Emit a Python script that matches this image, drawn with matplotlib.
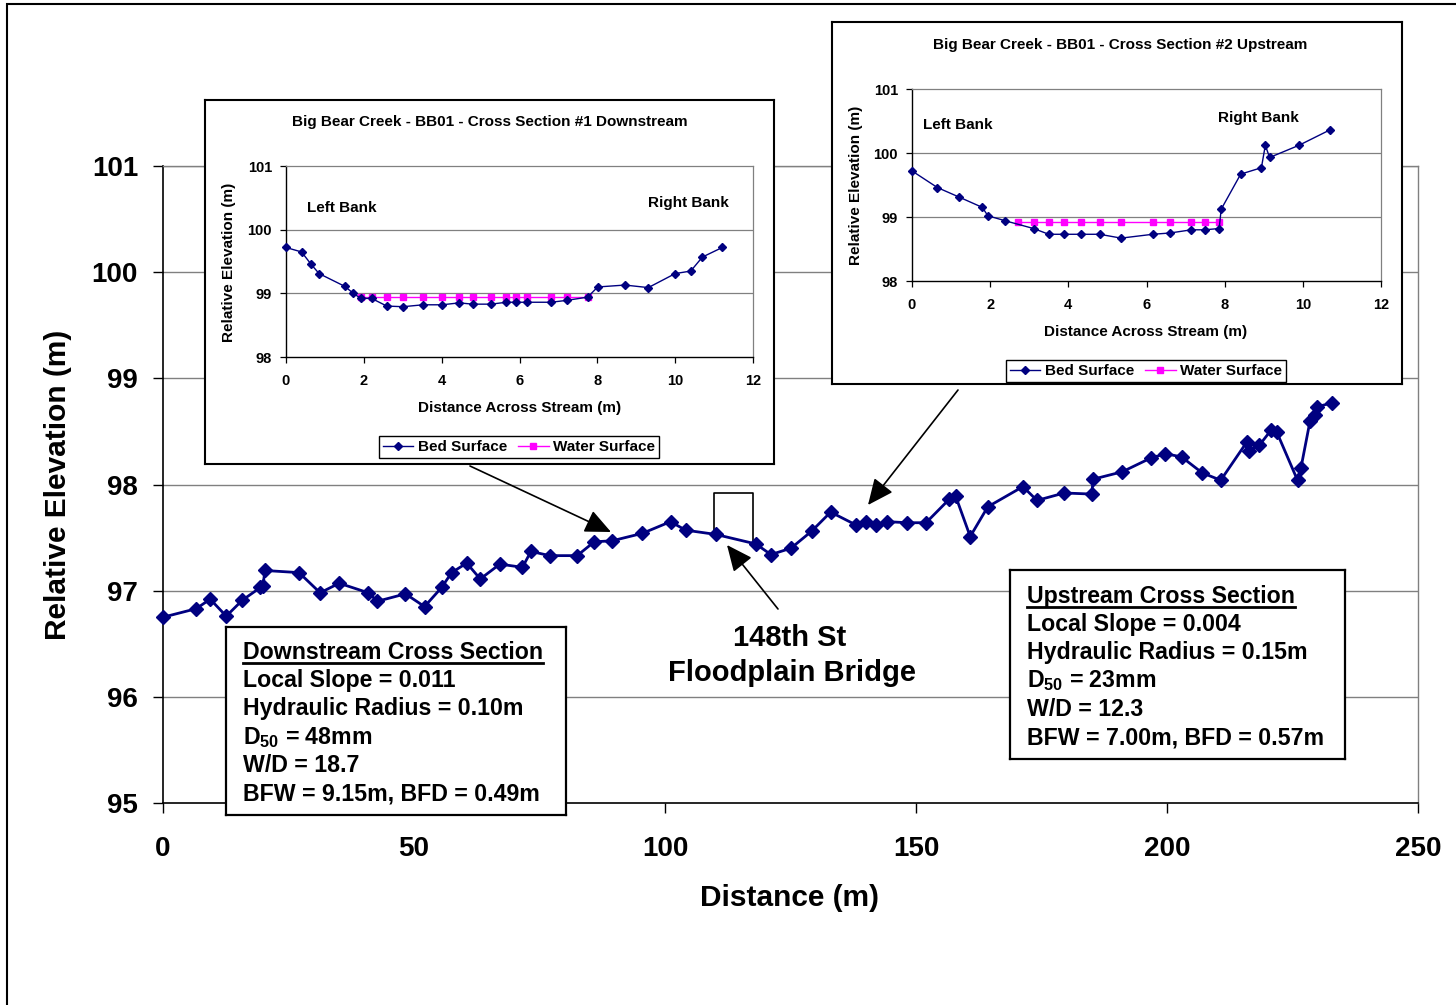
import matplotlib
matplotlib.use("Agg")
import matplotlib.pyplot as plt
from matplotlib.patches import FancyArrowPatch, Rectangle
from matplotlib.lines import Line2D

# ---------------- data ----------------
# longitudinal profile
dist = [0.0, 6.6, 9.4, 12.6, 15.8, 19.4, 19.9, 20.3, 27.1, 31.3, 35.1, 40.9, 42.7,
        48.3, 52.1, 55.5, 57.5, 60.5, 63.2, 67.1, 71.6, 73.3, 77.0, 82.5, 85.9,
        89.5, 95.5, 101.1, 104.1, 110.1, 118.1, 121.1, 125.1, 129.2, 133.0, 138.0,
        140.0, 142.1, 144.3, 148.2, 152.0, 156.6, 157.9, 160.8, 164.3, 171.3,
        174.1, 179.5, 185.0, 185.3, 191.1, 196.8, 199.7, 202.9, 207.0, 210.7,
        215.9, 216.4, 218.4, 220.7, 221.9, 226.0, 226.7, 228.5, 229.5, 229.8, 232.9]
elev = [96.75, 96.83, 96.92, 96.76, 96.91, 97.03, 97.04, 97.19, 97.17, 96.98, 97.07,
        96.98, 96.90, 96.97, 96.85, 97.03, 97.17, 97.26, 97.11, 97.25, 97.22, 97.37,
        97.33, 97.33, 97.46, 97.47, 97.54, 97.65, 97.57, 97.53, 97.44, 97.34, 97.40,
        97.56, 97.74, 97.62, 97.65, 97.62, 97.65, 97.64, 97.64, 97.86, 97.89, 97.51,
        97.79, 97.98, 97.85, 97.92, 97.91, 98.05, 98.12, 98.25, 98.29, 98.26, 98.11,
        98.04, 98.40, 98.32, 98.37, 98.51, 98.49, 98.04, 98.16, 98.60, 98.65, 98.73,
        98.77]

# cross section 1 (downstream)
xs1_x = [0.0, 0.40, 0.64, 0.85, 1.51, 1.71, 1.92, 2.20, 2.59, 3.01, 3.52, 4.01, 4.45,
         4.80, 5.27, 5.66, 5.91, 6.20, 6.81, 7.22, 7.75, 8.01, 8.71, 9.31, 10.00,
         10.40, 10.70, 11.21]
xs1_bed = [99.72, 99.65, 99.46, 99.31, 99.11, 99.01, 98.92, 98.92, 98.80, 98.79, 98.82,
           98.82, 98.85, 98.83, 98.83, 98.86, 98.86, 98.86, 98.86, 98.89, 98.94, 99.10,
           99.13, 99.09, 99.31, 99.35, 99.57, 99.72]
xs1_wx = [1.92, 2.20, 2.59, 3.01, 3.52, 4.01, 4.45, 4.80, 5.27, 5.66, 5.91, 6.20,
          6.81, 7.22, 7.75]
xs1_ws = [98.95] * len(xs1_wx)

# cross section 2 (upstream)
xs2_x = [0.0, 0.65, 1.21, 1.80, 1.94, 2.39, 3.11, 3.50, 3.89, 4.32, 4.80, 5.35, 6.16,
         6.60, 7.15, 7.49, 7.86, 7.91, 8.41, 8.94, 9.04, 9.15, 9.90, 10.69]
xs2_bed = [99.72, 99.46, 99.31, 99.15, 99.02, 98.94, 98.82, 98.73, 98.73, 98.73, 98.73,
           98.67, 98.73, 98.75, 98.80, 98.80, 98.82, 99.12, 99.67, 99.77, 100.12, 99.93,
           100.12, 100.36]
xs2_wx = [2.71, 3.11, 3.50, 3.89, 4.32, 4.80, 5.35, 6.16, 6.60, 7.15, 7.49, 7.86]
xs2_ws = [98.92] * len(xs2_wx)

main_xticks = [0, 50, 100, 150, 200, 250]
main_yticks = [95, 96, 97, 98, 99, 100, 101]

down_lines = ["Downstream Cross Section", "Local Slope = 0.011",
              "Hydraulic Radius = 0.10m", r"D$_{50}$ = 48mm", "W/D = 18.7",
              "BFW = 9.15m, BFD = 0.49m"]
up_lines = ["Upstream Cross Section", "Local Slope = 0.004",
            "Hydraulic Radius = 0.15m", r"D$_{50}$ = 23mm", "W/D = 12.3",
            "BFW = 7.00m, BFD = 0.57m"]

# ---------------- style ----------------
plt.rcParams['font.family'] = ['Liberation Sans', 'DejaVu Sans']
plt.rcParams['font.weight'] = 'bold'
plt.rcParams['mathtext.fontset'] = 'custom'
plt.rcParams['mathtext.rm'] = 'Liberation Sans:bold'
plt.rcParams['mathtext.it'] = 'Liberation Sans:bold'
plt.rcParams['mathtext.bf'] = 'Liberation Sans:bold'

W, H = 1456, 1005
NAVY = '#000080'
MAG = '#FF00FF'
GRID = '#808080'

fig = plt.figure(figsize=(W / 100, H / 100), dpi=100)


def fx(px):
    return px / W


def fy(py):
    return 1 - py / H


def rect(l, t, r, b):
    return [fx(l), fy(b), (r - l) / W, (b - t) / H]


# outer frame
fig.add_artist(Rectangle((fx(7), fy(1020)), 2, fy(4) - fy(1020), transform=fig.transFigure,
                         fill=False, edgecolor='black', lw=1.5, zorder=0.5))

# ---------------- main axes ----------------
ax = fig.add_axes(rect(163, 166, 1418, 803))
ax.plot(dist, elev, color=NAVY, lw=2.0, marker='D', ms=7.2, mec=NAVY, mfc=NAVY, zorder=3,
        clip_on=False)
ax.set_xlim(0, 250)
ax.set_ylim(95, 101)
ax.set_xticks(main_xticks)
ax.set_yticks(main_yticks)
for v in main_yticks[1:]:
    ax.axhline(v, color=GRID, lw=1.0, zorder=1)
for s in ['top', 'right']:
    ax.spines[s].set_color(GRID)
    ax.spines[s].set_linewidth(1.0)
for s in ['left', 'bottom']:
    ax.spines[s].set_color('black')
    ax.spines[s].set_linewidth(1.2)
ax.tick_params(axis='x', direction='out', length=7, width=1.0, pad=17, labelsize=20)
ax.tick_params(axis='y', direction='out', length=7, width=1.0, pad=11, labelsize=20)

fig.text(fx(58), fy(485), "Relative Elevation (m)", rotation=90, ha='center', va='center',
         fontsize=21.5)
fig.text(fx(790), fy(898), "Distance (m)", ha='center', va='center', fontsize=21.5)

# bridge bracket (annotation)
BR_X0, BR_X1, BR_TOP, BR_B0, BR_B1 = 109.8, 117.6, 97.92, 97.53, 97.46
ax.plot([BR_X0, BR_X0, BR_X1, BR_X1], [BR_B0, BR_TOP, BR_TOP, BR_B1], color='black',
        lw=1.2, zorder=2)

fig.text(fx(790), fy(638), "148th St", ha='center', va='center', fontsize=21)
fig.text(fx(792), fy(673), "Floodplain Bridge", ha='center', va='center', fontsize=21)


# ---------------- text boxes ----------------
def text_box(l, t, r, b, tx, baselines, lines):
    bx = fig.add_axes(rect(l, t, r, b))
    bx.set_xticks([])
    bx.set_yticks([])
    bx.set_facecolor('white')
    for s in bx.spines.values():
        s.set_linewidth(1.6)
        s.set_color('black')
    texts = []
    for yb, s in zip(baselines, lines):
        texts.append(fig.text(fx(tx), fy(yb), s, ha='left', va='baseline', fontsize=16.7,
                              zorder=5))
    return texts


down_texts = text_box(226, 627, 566, 815, 243, [659, 687, 715, 744, 772, 800], down_lines)
up_texts = text_box(1010, 570, 1345, 759, 1027, [603, 631, 659, 687, 716, 744], up_lines)


# ---------------- insets ----------------
def inset(box, axr, title, title_xy, ylab_xy, xlab_xy, leg_xy, bx_, bed, wx, ws,
          lb_xy, rb_xy):
    b = fig.add_axes(rect(*box))
    b.set_xticks([])
    b.set_yticks([])
    b.set_facecolor('white')
    for s in b.spines.values():
        s.set_linewidth(1.5)
        s.set_color('black')
    a = fig.add_axes(rect(*axr))
    l1, = a.plot(bx_, bed, color=NAVY, lw=1.0, marker='D', ms=3.6, mec=NAVY, mfc=NAVY,
                 label='Bed Surface', zorder=3, clip_on=False)
    l2, = a.plot(wx, ws, color=MAG, lw=1.0, marker='s', ms=4.5, mec=MAG, mfc=MAG,
                 label='Water Surface', zorder=2)
    a.set_xlim(0, 12)
    a.set_ylim(98, 101)
    a.set_xticks([0, 2, 4, 6, 8, 10, 12])
    a.set_yticks([98, 99, 100, 101])
    for v in [99, 100]:
        a.axhline(v, color=GRID, lw=0.9, zorder=1)
    for s in ['top', 'right']:
        a.spines[s].set_color(GRID)
        a.spines[s].set_linewidth(0.9)
    for s in ['left', 'bottom']:
        a.spines[s].set_color('black')
        a.spines[s].set_linewidth(1.0)
    a.tick_params(axis='x', direction='out', length=4, width=0.9, pad=8, labelsize=10.5)
    a.tick_params(axis='y', direction='out', length=4, width=0.9, pad=6, labelsize=10.5)
    a.text(lb_xy[0], lb_xy[1], "Left Bank", ha='left', va='center', fontsize=11)
    a.text(rb_xy[0], rb_xy[1], "Right Bank", ha='left', va='center', fontsize=11)
    fig.text(fx(title_xy[0]), fy(title_xy[1]), title, ha='center', va='center', fontsize=11)
    fig.text(fx(ylab_xy[0]), fy(ylab_xy[1]), "Relative Elevation (m)", rotation=90,
             ha='center', va='center', fontsize=11)
    fig.text(fx(xlab_xy[0]), fy(xlab_xy[1]), "Distance Across Stream (m)", ha='center',
             va='center', fontsize=11)
    leg = a.legend(handles=[l1, l2], loc='center', bbox_to_anchor=(fx(leg_xy[0]), fy(leg_xy[1])),
                   bbox_transform=fig.transFigure, ncol=2, fancybox=False, framealpha=1,
                   edgecolor='black', fontsize=11, handlelength=2.0, columnspacing=0.7,
                   handletextpad=0.3, borderpad=0.25, numpoints=1, borderaxespad=0)
    leg.get_frame().set_linewidth(1.0)
    return a


inset((205, 100, 774, 464), (286, 166, 753, 357),
      "Big Bear Creek - BB01 - Cross Section #1 Downstream", (490, 122), (229, 262),
      (520, 408), (519, 447), xs1_x, xs1_bed, xs1_wx, xs1_ws, (0.54, 100.34), (9.3, 100.42))
inset((832, 22, 1402, 384), (912, 89, 1381, 281),
      "Big Bear Creek - BB01 - Cross Section #2 Upstream", (1120, 45), (856, 185),
      (1146, 332), (1146, 371), xs2_x, xs2_bed, xs2_wx, xs2_ws, (0.28, 100.44), (7.83, 100.55))


# ---------------- arrows ----------------
def arrow(p0, p1):
    fig.add_artist(FancyArrowPatch((fx(p0[0]), fy(p0[1])), (fx(p1[0]), fy(p1[1])),
                                   transform=fig.transFigure,
                                   arrowstyle='-|>,head_length=0.8,head_width=0.36',
                                   mutation_scale=20, color='black', lw=1.2,
                                   shrinkA=0, shrinkB=0, zorder=6))


arrow((470, 466), (611, 532))
arrow((958, 390), (868, 505))
arrow((778, 609), (727, 545))

# underlines for box titles
fig.canvas.draw()
r = fig.canvas.get_renderer()
for t, yb in [(down_texts[0], 663), (up_texts[0], 607)]:
    bb = t.get_window_extent(r)
    fig.add_artist(Line2D([bb.x0 / W, bb.x1 / W], [fy(yb), fy(yb)], transform=fig.transFigure,
                          color='black', lw=2.0, zorder=6))

fig.savefig("out.png", dpi=100)
